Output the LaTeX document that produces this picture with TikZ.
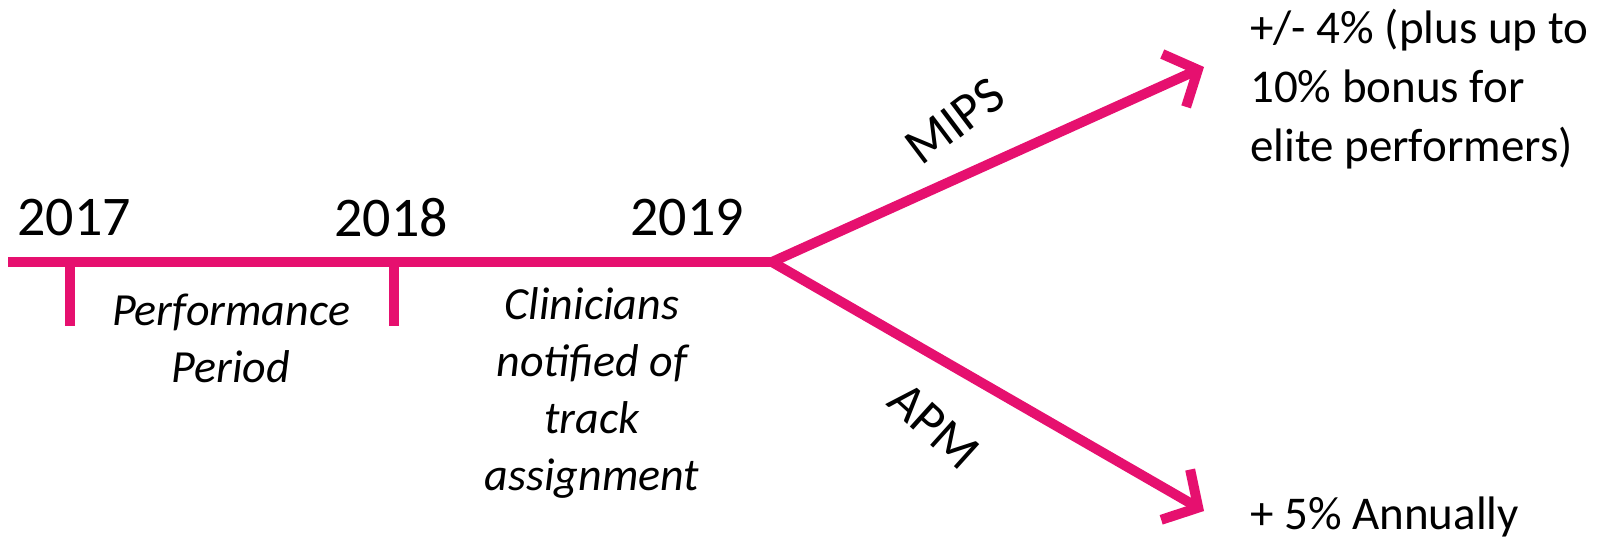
\documentclass[tikz,border=0pt]{standalone}
\usepackage{fontspec}
\setmainfont{Carlito}
\usetikzlibrary{arrows.meta}
\definecolor{track}{HTML}{E6106F}
\begin{document}
\begin{tikzpicture}[x=1pt,y=-1pt,
  rail/.style={draw=track,line width=10pt,line join=miter},
  pointer/.style={rail,-{Straight Barb[length=26pt,width=58pt,line width=10pt]}},
  year/.style={font=\fontsize{56}{62}\selectfont,inner sep=0pt},
  note/.style={font=\itshape\fontsize{46}{57}\selectfont,align=center,inner sep=0pt},
  branch/.style={font=\fontsize{52}{60}\selectfont,inner sep=0pt},
  result/.style={font=\fontsize{47}{59}\selectfont,align=left,inner sep=0pt,anchor=north west}]
\useasboundingbox (0,0) rectangle (1614,540);

% timeline and ticks
\coordinate (start) at (8,262);
\coordinate (junction) at (772,262);
\coordinate (t17) at (70,262);
\coordinate (t17b) at (70,326);
\coordinate (t18) at (394,262);
\coordinate (t18b) at (394,326);
\draw[rail] (start) -- (junction);
\draw[rail] (t17) -- (t17b);
\draw[rail] (t18) -- (t18b);

% year labels
\node[year] (y17) at (74,218) {2017};
\node[year] (y18) at (391,218) {2018};
\node[year] (y19) at (687,218) {2019};

% period notes
\node[note] (perf) at (231,338) {Performance\\Period};
\node[note] (clin) at (592,393) {Clinicians\\notified of\\track\\assignment};

% the two tracks
\coordinate (mipsTip) at (1204,67);
\coordinate (apmTip) at (1204,511);
\draw[pointer] (junction) -- (mipsTip);
\draw[pointer] (junction) -- (apmTip);

\node[branch,rotate=37] (mips) at (955,121) {MIPS};
\node[branch,rotate=-42] (apm) at (934,426) {APM};

% outcomes
\node[result] (mipsOut) at (1250,9) {+/- 4\% (plus up to\\10\% bonus for\\elite performers)};
\node[result,anchor=west] (apmOut) at (1250,517) {+ 5\% Annually};
\end{tikzpicture}
\end{document}
